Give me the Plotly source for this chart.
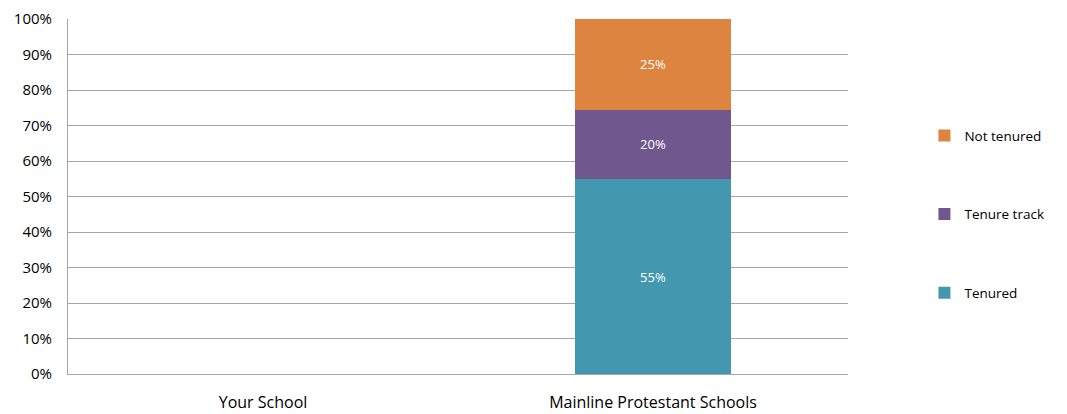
import plotly.graph_objs as go

categories = ['Your School', 'Mainline Protestant Schools']
tenured = [None, 0.549]
tenure_track = [None, 0.196]
not_tenured = [None, 0.255]
labels_tenured = ['', '55%']
labels_track = ['', '20%']
labels_not = ['', '25%']

FONT = 'Open Sans'

# the page body has an 8px margin, so the figure is a bit smaller
series = [
    ('Tenured', tenured, labels_tenured, '#4398B0', 3),
    ('Tenure track', tenure_track, labels_track, '#70588E', 2),
    ('Not tenured', not_tenured, labels_not, '#DD8440', 1),
]

traces = []
for name, vals, labels, color, rank in series:
    traces.append(
        go.Bar(
            x=categories,
            y=vals,
            name=name,
            legendgroup=name,
            legendrank=rank,
            text=labels,
            textposition='inside',
            insidetextanchor='middle',
            textfont=dict(color='white', size=13, family=FONT),
            marker=dict(color=color, line=dict(width=0)),
            hoverinfo='skip',
        )
    )

fig = go.Figure(
    data=traces,
    layout=go.Layout(
        barmode='stack',
        bargap=0.6,
        width=1059,
        height=406,
        margin=dict(l=60, r=219, t=11, b=40),
        paper_bgcolor='white',
        plot_bgcolor='white',
        font=dict(family=FONT, size=14, color='#404040'),
        xaxis=dict(
            showline=True,
            linecolor='#A6A6A6',
            ticks='',
            tickfont=dict(size=16, color='#000000'),
            ticklabelstandoff=14,
            automargin=False,
        ),
        yaxis=dict(
            range=[0, 1],
            dtick=0.1,
            tickformat='.0%',
            showline=True,
            linecolor='#A6A6A6',
            gridcolor='#A6A6A6',
            gridwidth=1,
            tickfont=dict(size=15, color='#000000'),
            ticklabelstandoff=12,
            automargin=False,
        ),
        legend=dict(
            x=1.098,
            xanchor='left',
            y=0.45,
            yanchor='middle',
            traceorder='grouped',
            tracegroupgap=58,
            font=dict(size=13.5, color='#000000'),
            itemwidth=30,
        ),
    ),
)

fig.write_html('out.html')
